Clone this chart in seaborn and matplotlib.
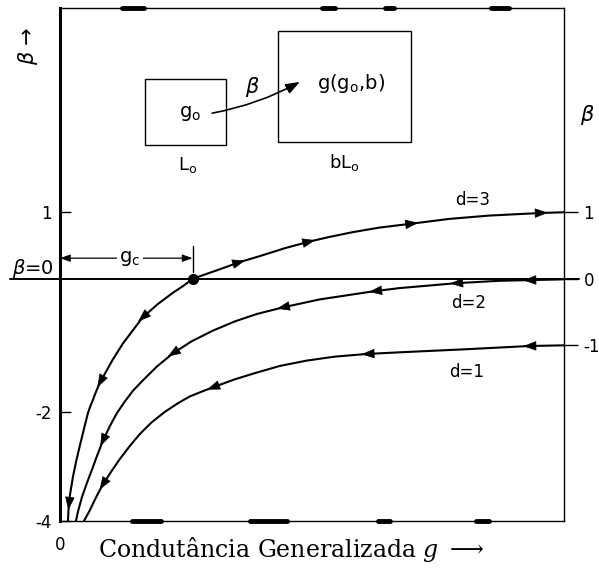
import numpy as np
import pandas as pd
import matplotlib
matplotlib.use("Agg")
import matplotlib.pyplot as plt
from matplotlib.patches import Rectangle
import seaborn as sns

# ---------------- data ----------------
g_d3 = [0.158, 0.168, 0.198, 0.257, 0.317, 0.396, 0.495, 0.555, 0.594, 0.653, 0.713, 0.792, 0.851,
        1.05, 1.25, 1.45, 1.64, 1.94, 2.24, 2.44, 2.63, 2.97, 3.27, 3.56, 3.96, 4.46, 4.95, 5.35,
        5.80, 6.34, 6.99, 7.72, 8.51, 9.56, 10.0]
b_d3 = [-4.0, -3.80, -3.52, -3.19, -2.92, -2.61, -2.24, -2.02, -1.93, -1.82, -1.70, -1.56, -1.48,
        -1.21, -0.97, -0.77, -0.58, -0.38, -0.21, -0.11, 0.0, 0.09, 0.17, 0.25, 0.34, 0.46, 0.56,
        0.63, 0.70, 0.77, 0.83, 0.90, 0.95, 0.99, 1.0]

g_d2 = [0.317, 0.356, 0.436, 0.535, 0.634, 0.733, 0.851, 0.99, 1.13, 1.29, 1.45, 1.64, 1.92, 2.24,
        2.61, 3.03, 3.47, 3.90, 4.42, 5.15, 6.20, 6.73, 7.86, 8.71, 9.31, 10.0]
b_d2 = [-4.0, -3.83, -3.56, -3.30, -3.06, -2.81, -2.53, -2.26, -2.02, -1.84, -1.68, -1.53, -1.32,
        -1.12, -0.94, -0.78, -0.64, -0.53, -0.43, -0.31, -0.19, -0.14, -0.066, -0.03, -0.02, -0.008]

g_d1 = [0.475, 0.594, 0.713, 0.851, 0.99, 1.19, 1.39, 1.58, 1.82, 2.08, 2.34, 2.57, 2.83, 3.11,
        3.47, 3.90, 4.36, 4.89, 5.45, 6.08, 6.73, 8.02, 9.31, 10.0]
b_d1 = [-4.0, -3.80, -3.57, -3.33, -3.13, -2.86, -2.62, -2.41, -2.19, -2.0, -1.87, -1.77, -1.69,
        -1.61, -1.51, -1.41, -1.31, -1.23, -1.17, -1.13, -1.105, -1.06, -1.01, -1.0]

g_c = 2.63

# arrow positions along each curve (g value, flow direction: +1 -> larger g)
arrows_d3 = [(0.18, -1), (0.80, -1), (1.64, -1), (3.56, 1), (4.95, 1), (6.99, 1), (9.56, 1)]
arrows_d2 = [(0.85, -1), (2.24, -1), (4.42, -1), (6.25, -1), (7.86, -1), (9.31, -1)]
arrows_d1 = [(0.85, -1), (3.03, -1), (6.10, -1), (9.31, -1)]

curve_labels = ["d=3", "d=2", "d=1"]
label_pos = [(8.18, 1.19), (8.10, -0.36), (8.06, -1.40)]

left_ticks = [1, -2, -4]
left_ticklabels = ["1", "-2", "-4"]
right_ticks = [1, 0, -1]
right_ticklabels = ["1", "0", "-1"]
x_ticks = [0]
x_ticklabels = ["0"]

# ---------------- style ----------------
sns.set_style("white")
plt.rcParams["font.family"] = ["DejaVu Sans"]
plt.rcParams["mathtext.fontset"] = "dejavusans"
for k in ["text.color", "axes.labelcolor", "xtick.color", "ytick.color", "axes.edgecolor"]:
    plt.rcParams[k] = "black"

fig = plt.figure(figsize=(5.99, 5.69), dpi=100)
ax = fig.add_axes([60 / 599, 1 - 521 / 569, 504 / 599, 513 / 569])

K = 0.82
def fwd(y):
    y = np.asarray(y, float)
    return np.where(y >= -2, y, -2 + (y + 2) * K)
def inv(y):
    y = np.asarray(y, float)
    return np.where(y >= -2, y, -2 + (y + 2) / K)

ax.set_yscale("function", functions=(fwd, inv))
ax.set_xlim(0, 10)
ax.set_ylim(-4, 4.07)

# curves
df = pd.concat([
    pd.DataFrame({"g": g_d3, "beta": b_d3, "d": "3"}),
    pd.DataFrame({"g": g_d2, "beta": b_d2, "d": "2"}),
    pd.DataFrame({"g": g_d1, "beta": b_d1, "d": "1"}),
])
for d in ["3", "2", "1"]:
    sub = df[df.d == d]
    sns.lineplot(x=sub["g"], y=sub["beta"], ax=ax, color="black", lw=1.5,
                 sort=False, estimator=None, legend=False)

# zero line extends beyond the frame
ax.axhline(0, xmin=-0.099, xmax=1.03, color="black", lw=1.4, clip_on=False, zorder=1)

# critical point
ax.plot([g_c], [0], "o", color="black", ms=7, zorder=5)

# arrowheads along curves
def add_arrows(gs, bs, spec):
    gs = np.asarray(gs); bs = np.asarray(bs)
    for g0, sgn in spec:
        b0 = np.interp(g0, gs, bs)
        h = 0.03
        b1 = np.interp(g0 + h, gs, bs)
        p0 = ax.transData.transform((g0, b0))
        p1 = ax.transData.transform((g0 + h, b1))
        t = (p1 - p0) / np.hypot(*(p1 - p0)) * sgn
        L = 6.0
        tip = ax.transData.inverted().transform(p0 + t * L)
        tail = ax.transData.inverted().transform(p0 - t * L)
        ax.annotate("", xy=tip, xytext=tail,
                    arrowprops=dict(arrowstyle="-|>,head_length=0.6,head_width=0.22",
                                    mutation_scale=14, color="black", lw=0.5,
                                    shrinkA=0, shrinkB=0), zorder=6)

add_arrows(g_d3, b_d3, arrows_d3)
add_arrows(g_d2, b_d2, arrows_d2)
add_arrows(g_d1, b_d1, arrows_d1)

for lab, (gx, by) in zip(curve_labels, label_pos):
    ax.text(gx, by, lab, fontsize=12, ha="center", va="center")

# g_c annotation
ax.annotate("", xy=(0, 0.31), xytext=(g_c, 0.31),
            arrowprops=dict(arrowstyle="<|-|>,head_length=0.5,head_width=0.18",
                            mutation_scale=12, color="black", lw=0.9,
                            shrinkA=0, shrinkB=0))
ax.plot([g_c, g_c], [0.1, 0.49], color="black", lw=1.0)
ax.text(1.39, 0.31, "g$_\\mathregular{c}$", fontsize=14, ha="center", va="center",
        bbox=dict(facecolor="white", edgecolor="none", pad=1.5))

# spines
for s in ["top", "right", "bottom"]:
    ax.spines[s].set_linewidth(1.0)
    ax.spines[s].set_color("black")
ax.spines["left"].set_linewidth(2.2)
ax.spines["left"].set_color("black")

# scan-like thick marks on frame
for a, b in [(0.123, 0.166), (0.519, 0.545), (0.644, 0.663), (0.855, 0.891)]:
    ax.plot([a, b], [1, 1], transform=ax.transAxes, color="black", lw=3.5,
            solid_capstyle="round", clip_on=False)
for a, b in [(0.143, 0.200), (0.376, 0.450), (0.630, 0.655), (0.826, 0.851)]:
    ax.plot([a, b], [0, 0], transform=ax.transAxes, color="black", lw=3.5,
            solid_capstyle="round", clip_on=False)

# ticks
ax.set_yticks(left_ticks)
ax.set_yticklabels(left_ticklabels)
ax.yaxis.set_minor_locator(matplotlib.ticker.NullLocator())
ax.tick_params(axis="y", left=True, direction="in", length=8, width=1.0,
               pad=6, labelsize=12, colors="black")
ax.set_xticks(x_ticks)
ax.set_xticklabels(x_ticklabels)
ax.tick_params(axis="x", bottom=True, length=0, pad=11, labelsize=12, colors="black")
ax.set_xlabel("")
ax.set_ylabel("")

ax2 = ax.twinx()
ax2.set_yscale("function", functions=(fwd, inv))
ax2.set_ylim(ax.get_ylim())
ax2.set_yticks(right_ticks)
ax2.set_yticklabels(right_ticklabels)
ax2.yaxis.set_minor_locator(matplotlib.ticker.NullLocator())
ax2.tick_params(axis="y", right=True, direction="out", length=10, width=1.0,
                pad=4, labelsize=12, colors="black")
for s in ax2.spines.values():
    s.set_visible(False)

# inset sketch
ax.add_patch(Rectangle((0.169, 0.733), 0.160, 0.129, transform=ax.transAxes,
                       fill=False, edgecolor="black", lw=1.0))
ax.add_patch(Rectangle((0.4325, 0.739), 0.2635, 0.216, transform=ax.transAxes,
                       fill=False, edgecolor="black", lw=1.0))
ax.text(0.258, 0.795, "g$_\\mathregular{o}$", transform=ax.transAxes, fontsize=14,
        ha="center", va="center")
ax.text(0.254, 0.694, "L$_\\mathregular{o}$", transform=ax.transAxes, fontsize=13,
        ha="center", va="center")
ax.text(0.577, 0.852, "g(g$_\\mathregular{o}$,b)", transform=ax.transAxes, fontsize=14,
        ha="center", va="center")
ax.text(0.565, 0.698, "bL$_\\mathregular{o}$", transform=ax.transAxes, fontsize=13,
        ha="center", va="center")
ax.text(0.381, 0.846, "$\\beta$", transform=ax.transAxes, fontsize=15,
        ha="center", va="center")
ax.annotate("", xy=(0.476, 0.856), xytext=(0.302, 0.795), xycoords="axes fraction",
            textcoords="axes fraction",
            arrowprops=dict(arrowstyle="-|>,head_length=0.6,head_width=0.22",
                            mutation_scale=14, color="black", lw=1.2,
                            shrinkA=0, shrinkB=0, connectionstyle="arc3,rad=0.08"))

# side labels
ax.text(-0.054, 0.493, "$\\beta$=0", transform=ax.transAxes, fontsize=14,
        ha="center", va="center")
ax.text(1.046, 0.791, "$\\beta$", transform=ax.transAxes, fontsize=15,
        ha="center", va="center")
ax.text(-0.063, 0.926, "$\\beta$ \u2192", transform=ax.transAxes, fontsize=15,
        ha="center", va="center", rotation=90)

fig.text(291 / 599, 1 - 550 / 569, "Condutância Generalizada $g$ $\\longrightarrow$",
         family="DejaVu Serif", math_fontfamily="dejavuserif", fontsize=17,
         ha="center", va="center")

fig.savefig("out.png", dpi=100, facecolor="white")
